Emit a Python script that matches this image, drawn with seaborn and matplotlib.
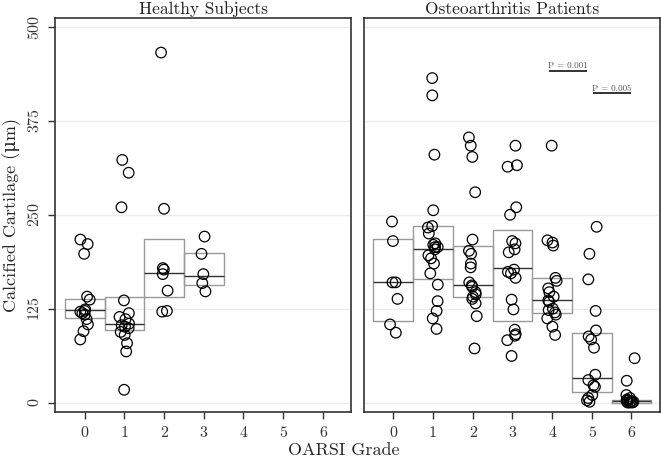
import numpy as np
import pandas as pd
import matplotlib
matplotlib.use("Agg")
import matplotlib.pyplot as plt
import seaborn as sns

# ---------------- data ----------------
grades = ["0", "1", "2", "3", "4", "5", "6"]

healthy_g0 = [217, 211, 198, 141, 137, 124, 122, 121, 119, 117, 111, 104, 95, 84]
healthy_g1 = [323, 306, 260, 136, 119, 114, 111, 105, 103, 101, 99, 94, 90, 79, 68, 17]
healthy_g2 = [466, 258, 179, 177, 171, 149, 122, 121]
healthy_g3 = [221, 198, 171, 159, 148]

oa_g0 = [241, 215, 160, 160, 138, 104, 93]
oa_g1 = [432, 409, 330, 256, 235, 233, 225, 212, 210, 207, 207, 204, 196, 192,
         185, 172, 157, 135, 122, 112, 98]
oa_g2 = [353, 342, 327, 280, 217, 202, 198, 185, 180, 160, 156, 154, 147, 144,
         141, 138, 132, 115, 72]
oa_g3 = [342, 316, 314, 260, 250, 215, 212, 204, 200, 177, 174, 172, 166, 137,
         124, 97, 91, 89, 83, 62]
oa_g4 = [342, 216, 213, 209, 166, 162, 152, 147, 141, 136, 134, 125, 123, 120,
         117, 112, 101, 90]
oa_g5 = [234, 198, 164, 122, 96, 88, 84, 73, 37, 30, 23, 21, 10, 6, 3, 1]
oa_g6 = [59, 29, 10, 6, 4, 3, 2, 2, 1, 1, 0, 0, 0]

# box statistics (lower quartile, median, upper quartile) as drawn
healthy_q1 = [112, 96, 140, 156]
healthy_med = [123, 104, 172, 168]
healthy_q3 = [138, 140, 218, 199]

oa_q1 = [109, 165, 140, 109, 119, 14, 0]
oa_med = [160, 205, 157, 179, 136, 33, 2]
oa_q3 = [218, 235, 209, 230, 166, 92, 4]

# significance annotations (right panel)
p_labels = ["P = 0.001", "P = 0.005"]
p_x_start = [3.93, 5.03]
p_x_end = [4.88, 6.00]
p_line_y = [442, 412]
p_text_y = [449, 418]

panel_titles = ["Healthy Subjects", "Osteoarthritis Patients"]
y_ticks = [0, 125, 250, 375, 500]

# ---------------- build tables ----------------
def points_frame(groups):
    rows = []
    for g, vals in zip(grades, groups):
        for v in vals:
            rows.append((g, v))
    return pd.DataFrame(rows, columns=["grade", "value"])


def box_frame(q1, med, q3):
    rows = []
    for g, a, m, b in zip(grades, q1, med, q3):
        for v in (a, a, m, b, b):
            rows.append((g, v))
    return pd.DataFrame(rows, columns=["grade", "value"])


pts_h = points_frame([healthy_g0, healthy_g1, healthy_g2, healthy_g3])
pts_o = points_frame([oa_g0, oa_g1, oa_g2, oa_g3, oa_g4, oa_g5, oa_g6])
box_h = box_frame(healthy_q1, healthy_med, healthy_q3)
box_o = box_frame(oa_q1, oa_med, oa_q3)

# ---------------- style ----------------
sns.set_style("white")
plt.rcParams["font.family"] = ["cmr10", "DejaVu Serif"]
plt.rcParams["mathtext.fontset"] = "cm"
plt.rcParams["axes.formatter.use_mathtext"] = True

np.random.seed(7)

fig, axes = plt.subplots(1, 2, figsize=(6.61, 4.61), dpi=100, sharey=True)
fig.subplots_adjust(left=55 / 661, right=660 / 661, bottom=1 - 412 / 461,
                    top=1 - 18 / 461, wspace=0.041)

spine_col = "#333333"

for ax, pts, box, title in zip(axes, [pts_h, pts_o], [box_h, box_o], panel_titles):
    for yt in y_ticks:
        ax.axhline(yt, color="#ececec", linewidth=1.0, zorder=0)
    sns.boxplot(data=box, x="grade", y="value", order=grades, width=1.0,
                whis=0, showcaps=False, showfliers=False, fill=False,
                color="#9a9a9a", linewidth=1.0,
                medianprops={"color": "#333333", "linewidth": 1.0},
                whiskerprops={"linewidth": 0}, ax=ax)
    sns.stripplot(data=pts, x="grade", y="value", order=grades, jitter=0.13,
                  size=7.6, color="black", linewidth=0.9, ax=ax, zorder=3)
    for coll in ax.collections:
        coll.set_facecolor("none")
        coll.set_edgecolor("black")
        coll.set_linewidth(0.9)
    ax.set_xlim(-0.75, 6.72)
    ax.set_ylim(-12.6, 512)
    ax.set_yticks(y_ticks)
    ax.set_xlabel("")
    ax.set_ylabel("")
    ax.set_title(title, fontsize=12.5, pad=3, color="#222222")
    for s in ax.spines.values():
        s.set_visible(True)
        s.set_color(spine_col)
        s.set_linewidth(1.2)
    ax.tick_params(axis="x", direction="out", length=5, width=1, color=spine_col,
                   labelsize=11.5, pad=5, bottom=True, labelcolor="#333333")
    ax.grid(False)

axes[0].tick_params(axis="y", direction="out", length=5, width=1, color=spine_col,
                    labelsize=11.5, pad=4, left=True, labelcolor="#333333")
for lab in axes[0].get_yticklabels():
    lab.set_rotation(90)
    lab.set_va("center")
axes[1].tick_params(axis="y", left=False, labelleft=False)

axes[0].set_ylabel("Calcified Cartilage (μm)", fontsize=13, labelpad=5)
fig.text(344 / 661, 1 - 450 / 461, "OARSI Grade", ha="center", va="center",
         fontsize=13)

ax = axes[1]
for lab, xs, xe, ly, ty in zip(p_labels, p_x_start, p_x_end, p_line_y, p_text_y):
    ax.hlines(ly, xs, xe, color="#222222", linewidth=1.3)
    ax.text((xs + xe) / 2, ty, lab, ha="center", va="center", fontsize=6.5,
            color="#555555")

fig.savefig("out.png", dpi=100)
